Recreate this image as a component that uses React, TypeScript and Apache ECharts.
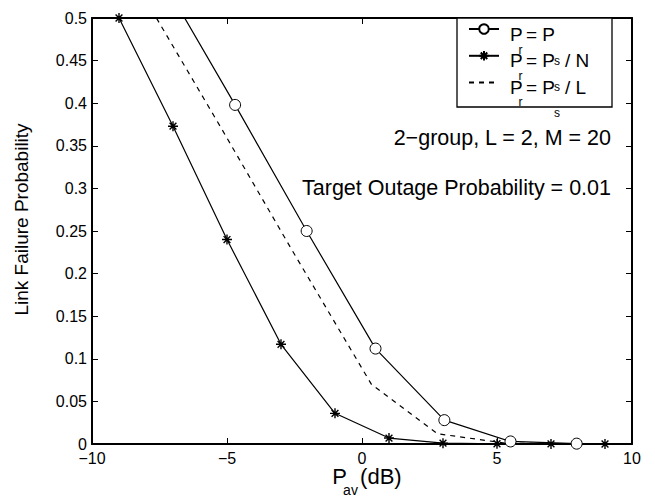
import React, { useEffect, useRef } from 'react';
import * as echarts from 'echarts';

const FONT = '"Liberation Sans", Arial, Helvetica, sans-serif';

const xMin = -10;
const xMax = 10;
const xInterval = 5;
const yMin = 0;
const yMax = 0.5;
const yInterval = 0.05;

const seriesNames = ['Pr = Ps', 'Pr = Ps / N', 'Pr = Ps / L'];

// P_r = P_s  (circles)
const circleX = [-7.3, -4.7, -2.05, 0.5, 3.05, 5.5, 7.95];
const circleY = [0.54, 0.398, 0.25, 0.112, 0.028, 0.003, 0.0004];

// P_r = P_s / N  (stars)
const starX = [-9, -7, -5, -3, -1, 1, 3, 5, 7, 9];
const starY = [0.5, 0.373, 0.24, 0.117, 0.036, 0.007, 0.001, 0.0003, 0.0001, 0];

// P_r = P_s / L  (dashed)
const dashX = [-7.8, -5.2, -2.6, 0.35, 2.8, 5.3, 7.8];
const dashY = [0.51, 0.37, 0.228, 0.07, 0.012, 0.001, 0.0001];

const annotation1 = '2\u2212group, L = 2, M = 20';
const annotation2 = 'Target Outage Probability = 0.01';

// legend label tails (after "P_r = P_s")
const legendTails = ['', '/ N', '/ L'];

const STAR = 'path://M5,0L5,10M0,5L10,5M1.6,1.6L8.4,8.4M1.6,8.4L8.4,1.6';

const minus = (v: number) => String(v).replace('-', '\u2212');

export default function App() {
  const ref = useRef<HTMLDivElement>(null);

  useEffect(() => {
    if (!ref.current) return;
    const chart = echarts.init(ref.current, undefined, { renderer: 'svg' });

    const mainSize = 19;
    const subSize = 12;
    const legendText = (text: string, x: number, y: number, size: number) => ({
      type: 'text',
      z: 7,
      x,
      y,
      style: { text, fontSize: size, fontFamily: FONT, fill: '#000', align: 'left', verticalAlign: 'middle' },
    });

    const legendPieces: any[] = [];
    legendTails.forEach((tail, i) => {
      const yc = 34.8 + i * 26.1;
      legendPieces.push(legendText('P', 510, yc, mainSize));
      legendPieces.push(legendText('r', 518.5, yc + 15, subSize));
      legendPieces.push(legendText('= P', 526, yc, mainSize));
      legendPieces.push(legendText('s', 554, yc + 26, subSize));
      if (tail) legendPieces.push(legendText(tail, 565, yc, mainSize));
    });

    const axisLine = { onZero: false, lineStyle: { color: '#000', width: 2 } };
    const axisTick = { inside: true, length: 6, lineStyle: { color: '#000', width: 1 } };

    const option: any = {
      animation: false,
      backgroundColor: '#fff',
      grid: { left: 92, right: 23, top: 18, bottom: 54, containLabel: false, outerBoundsMode: 'none' },
      xAxis: [
        {
          type: 'value',
          min: xMin,
          max: xMax,
          interval: xInterval,
          position: 'bottom',
          axisLine,
          axisTick,
          splitLine: { show: false },
          axisLabel: { color: '#000', fontSize: 16, fontFamily: FONT, margin: 6, formatter: minus },
          name: '{p|P}{a|av}{p| (dB)}',
          nameLocation: 'middle',
          nameGap: 21.5,
          nameMoveOverlap: false,
          nameTextStyle: {
            padding: [0, 0, 0, 10],
            rich: {
              p: { fontSize: 22, fontFamily: FONT, color: '#000', verticalAlign: 'top' },
              a: {
                fontSize: 14,
                fontFamily: FONT,
                color: '#000',
                verticalAlign: 'top',
                width: 7,
                padding: [17, 0, 0, 0],
              },
            },
          },
        },
        {
          type: 'value',
          min: xMin,
          max: xMax,
          interval: xInterval,
          position: 'top',
          axisLine,
          axisTick,
          splitLine: { show: false },
          axisLabel: { show: false },
        },
      ],
      yAxis: [
        {
          type: 'value',
          min: yMin,
          max: yMax,
          interval: yInterval,
          position: 'left',
          axisLine,
          axisTick,
          splitLine: { show: false },
          axisLabel: { color: '#000', fontSize: 16, fontFamily: FONT, margin: 5 },
          name: 'Link Failure Probability',
          nameLocation: 'middle',
          nameGap: 61,
          nameMoveOverlap: false,
          nameTextStyle: { color: '#000', fontSize: 19, fontFamily: FONT, padding: [0, 0, 0, 23] },
        },
        {
          type: 'value',
          min: yMin,
          max: yMax,
          interval: yInterval,
          position: 'right',
          axisLine,
          axisTick,
          splitLine: { show: false },
          axisLabel: { show: false },
        },
      ],
      legend: {
        data: [
          { name: seriesNames[0] },
          { name: seriesNames[1] },
          { name: seriesNames[2], itemStyle: { opacity: 0 } },
        ],
        orient: 'vertical',
        left: 468,
        top: 23,
        padding: 0,
        itemWidth: 30,
        itemHeight: 12,
        itemGap: 15,
        selectedMode: false,
        formatter: () => '',
        textStyle: { fontSize: 1 },
        z: 6,
      },
      graphic: [
        {
          type: 'rect',
          z: 3,
          shape: { x: 457, y: 18, width: 155, height: 89 },
          style: { fill: '#fff', stroke: '#000', lineWidth: 1.3 },
        },
        ...legendPieces,
        {
          type: 'text',
          z: 7,
          x: 611,
          y: 138,
          style: {
            text: annotation1,
            align: 'right',
            verticalAlign: 'middle',
            fontSize: 21.5,
            fontFamily: FONT,
            fill: '#000',
          },
        },
        {
          type: 'text',
          z: 7,
          x: 611,
          y: 188,
          style: {
            text: annotation2,
            align: 'right',
            verticalAlign: 'middle',
            fontSize: 21.5,
            fontFamily: FONT,
            fill: '#000',
          },
        },
      ],
      series: [
        {
          name: seriesNames[0],
          type: 'line',
          xAxisIndex: 0,
          yAxisIndex: 0,
          clip: true,
          data: circleX.map((x, i) => (i === 0 ? { value: [x, circleY[i]], symbol: 'none' } : [x, circleY[i]])),
          symbol: 'circle',
          symbolSize: 11,
          lineStyle: { color: '#000', width: 1.2 },
          itemStyle: { color: '#fff', borderColor: '#000', borderWidth: 1 },
        },
        {
          name: seriesNames[1],
          type: 'line',
          xAxisIndex: 0,
          yAxisIndex: 0,
          clip: false,
          data: starX.map((x, i) => [x, starY[i]]),
          symbol: STAR,
          symbolSize: 10,
          lineStyle: { color: '#000', width: 1.2 },
          itemStyle: { color: '#000', borderColor: '#000', borderWidth: 1.4 },
        },
        {
          name: seriesNames[2],
          type: 'line',
          xAxisIndex: 0,
          yAxisIndex: 0,
          clip: true,
          data: dashX.map((x, i) => [x, dashY[i]]),
          symbol: 'none',
          lineStyle: { color: '#000', width: 1.2, type: [5, 5] },
          itemStyle: { color: '#000' },
        },
      ],
    };

    chart.setOption(option);
    return () => chart.dispose();
  }, []);

  return (
    <div
      ref={ref}
      style={{ position: 'absolute', left: 0, top: 0, width: 655, height: 498, background: '#fff' }}
    />
  );
}
